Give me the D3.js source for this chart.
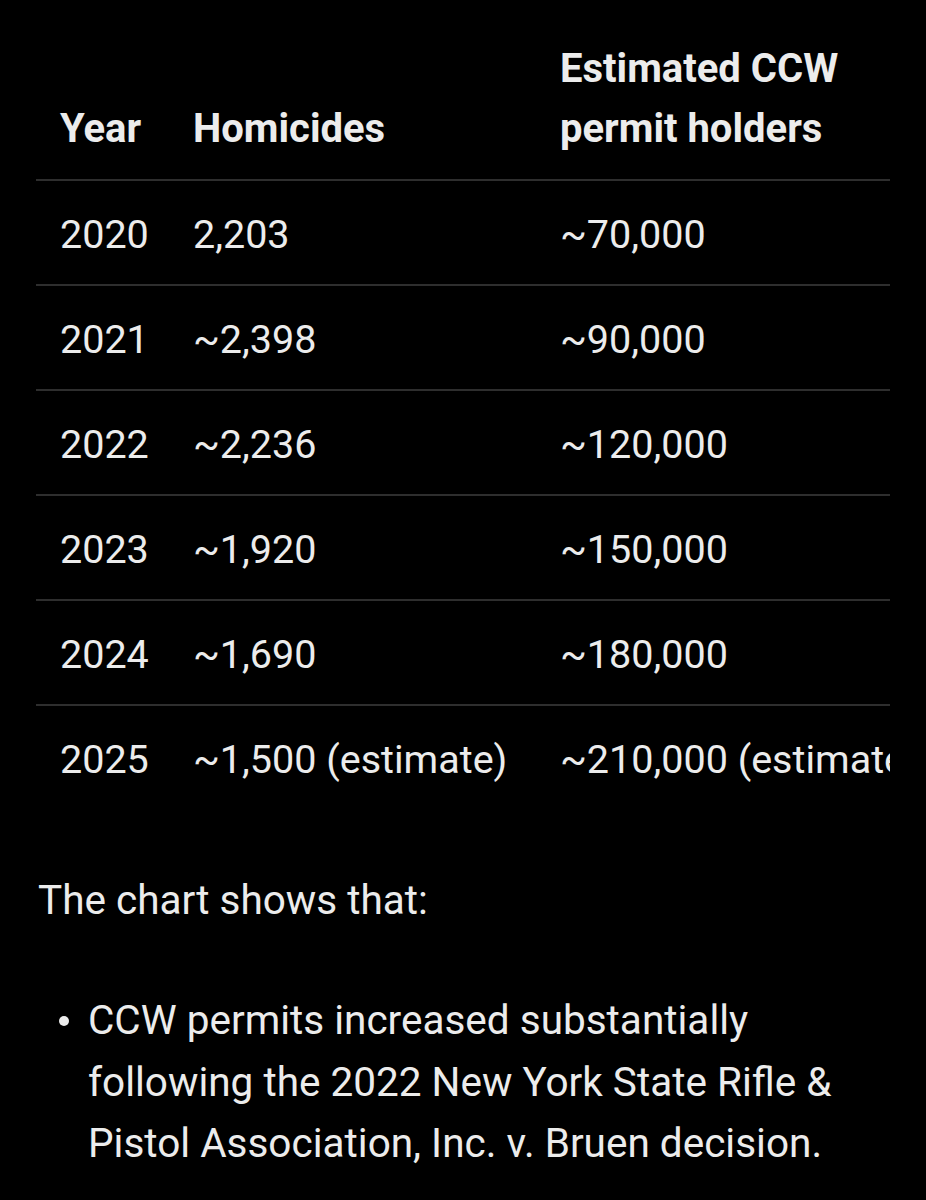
<!DOCTYPE html>
<html><head><meta charset="utf-8">
<script src="https://cdn.jsdelivr.net/npm/d3@7"></script>
<style>body{margin:0;background:#000;}svg{display:block;}</style>
</head><body>
<script>
const headers = [["Year"], ["Homicides"], ["Estimated CCW", "permit holders"]];
const years = ["2020", "2021", "2022", "2023", "2024", "2025"];
const homicides = ["2,203", "~2,398", "~2,236", "~1,920", "~1,690", "~1,500 (estimate)"];
const permits = ["~70,000", "~90,000", "~120,000", "~150,000", "~180,000", "~210,000 (estimate)"];
const intro = "The chart shows that:";
const bulletLines = ["CCW permits increased substantially", "following the 2022 New York State Rifle &", "Pistol Association, Inc. v. Bruen decision."];

const W = 926, H = 1200;
const svg = d3.select("body").append("svg").attr("width", W).attr("height", H);
svg.append("rect").attr("width", W).attr("height", H).attr("fill", "#000");
svg.append("defs").append("clipPath").attr("id", "clip").append("rect").attr("x", 0).attr("y", 0).attr("width", 890).attr("height", H);
const font = "Roboto, 'Noto Sans', sans-serif";
const colX = [60, 193, 560];
const fg = "#ececec";

const g = svg.append("g").attr("clip-path", "url(#clip)");
headers.forEach((lines, i) => {
  lines.forEach((t, j) => {
    const y = 128 - (lines.length - 1 - j) * 60;
    g.append("text").attr("x", colX[i]).attr("y", y).attr("dominant-baseline", "central")
      .attr("font-family", font).attr("font-weight", "bold").attr("font-size", 40).attr("fill", fg).text(t);
  });
});
const y = d3.scaleBand().domain(years).range([180, 810]);
const lineY = [180].concat(years.slice(0, -1).map(d => y(d) + y.bandwidth()));
g.selectAll("line.div").data(lineY).join("line")
  .attr("x1", 36).attr("x2", 890).attr("y1", d => d).attr("y2", d => d)
  .attr("stroke", "#2e2e2e").attr("stroke-width", 2);
years.forEach((yr, i) => {
  [yr, homicides[i], permits[i]].forEach((t, c) => {
    g.append("text").attr("x", colX[c]).attr("y", y(yr) + y.bandwidth() / 2 + 2)
      .attr("dominant-baseline", "central").attr("font-family", font)
      .attr("font-size", 39.5).attr("fill", fg).text(t);
  });
});
svg.append("text").attr("x", 38).attr("y", 900).attr("dominant-baseline", "central")
  .attr("font-family", font).attr("font-size", 40.5).attr("fill", fg).text(intro);
svg.append("circle").attr("cx", 64).attr("cy", 1021).attr("r", 5).attr("fill", fg);
bulletLines.forEach((t, i) => {
  svg.append("text").attr("x", 88).attr("y", 1020 + i * 61.5).attr("dominant-baseline", "central")
    .attr("font-family", font).attr("font-size", 40.5).attr("fill", fg).text(t);
});
</script>
</body></html>
